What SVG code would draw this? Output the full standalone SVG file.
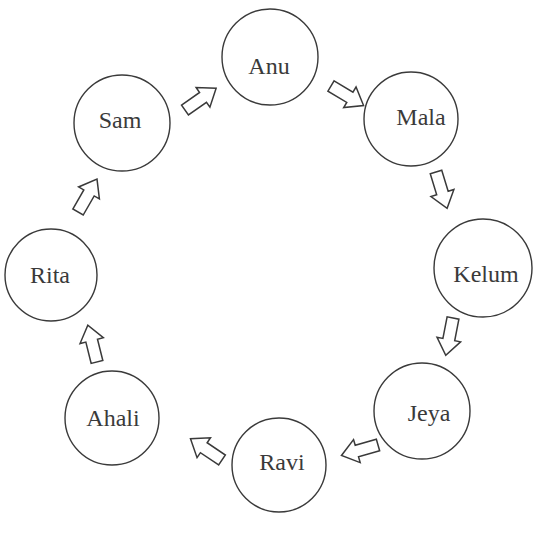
<svg xmlns="http://www.w3.org/2000/svg" xmlns:xlink="http://www.w3.org/1999/xlink" width="539" height="539" viewBox="0 0 539 539">
<style>
.node circle{fill:#fff;stroke:#3a3a3a;stroke-width:1.4}
.node text{font-family:"Liberation Serif","Times New Roman",serif;font-size:24px;fill:#3a3a3a;text-anchor:middle}
.arr{fill:#fff;stroke:#3a3a3a;stroke-width:1.5;stroke-linejoin:miter}
</style>
<defs>
<path id="ba" class="arr" d="M0,-6 L22,-6 L22,-12 L38,0 L22,12 L22,6 L0,6 Z"/>
</defs>
<rect width="539" height="539" fill="#fff"/>
<g id="connectors">
<use xlink:href="#ba" transform="translate(185,110) rotate(-35)"/>
<use xlink:href="#ba" transform="translate(331,86) rotate(31)"/>
<use xlink:href="#ba" transform="translate(436,172) rotate(73)"/>
<use xlink:href="#ba" transform="translate(453,318) rotate(101)"/>
<use xlink:href="#ba" transform="translate(378,445) rotate(164)"/>
<use xlink:href="#ba" transform="translate(222,460) rotate(214)"/>
<use xlink:href="#ba" transform="translate(97,362) rotate(256)"/>
<use xlink:href="#ba" transform="translate(78,212) rotate(300)"/>
</g>
<g id="anu" class="node"><circle cx="270" cy="57" r="48"/><text x="269" y="74">Anu</text></g>
<g id="mala" class="node"><circle cx="411" cy="119" r="47"/><text x="421" y="125">Mala</text></g>
<g id="kelum" class="node"><circle cx="483" cy="268" r="49"/><text x="486" y="282">Kelum</text></g>
<g id="jeya" class="node"><circle cx="422" cy="411" r="48"/><text x="429" y="421">Jeya</text></g>
<g id="ravi" class="node"><circle cx="279" cy="465" r="47"/><text x="282" y="470">Ravi</text></g>
<g id="ahali" class="node"><circle cx="112" cy="418" r="47"/><text x="113" y="426">Ahali</text></g>
<g id="rita" class="node"><circle cx="51" cy="275" r="46"/><text x="50" y="283">Rita</text></g>
<g id="sam" class="node"><circle cx="122" cy="123" r="48"/><text x="120" y="128">Sam</text></g>
</svg>
